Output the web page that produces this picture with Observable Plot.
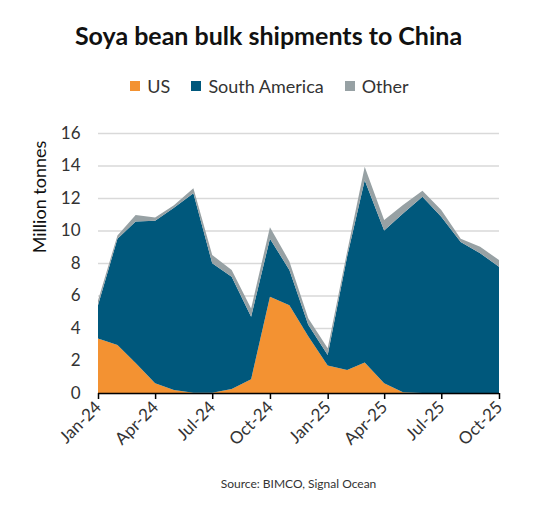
<!DOCTYPE html>
<html><head><meta charset="utf-8">
<script src="https://cdn.jsdelivr.net/npm/d3@7"></script>
<script src="https://cdn.jsdelivr.net/npm/@observablehq/plot@0.6"></script>
<style>
body{margin:0;background:#fff;font-family:Lato,sans-serif;}
#wrap{position:relative;width:537px;height:515px;overflow:hidden;}
.title{position:absolute;top:20px;left:0;width:537px;text-align:center;font-weight:bold;font-size:25px;color:#111;}
.legend{position:absolute;top:75px;left:0;width:537px;display:flex;justify-content:center;gap:21px;font-size:18px;color:#333;padding-left:2px;box-sizing:border-box;}
.legend span.item{display:flex;align-items:center;gap:7px;}
.legend span.sw{display:inline-block;width:10px;height:10px;}
#chart{position:absolute;top:110px;left:0;}
.source{position:absolute;top:476px;left:0;width:537px;text-align:center;font-size:12px;color:#333;padding-left:60px;box-sizing:border-box;}
</style></head>
<body>
<div id="wrap">
<div class="title">Soya bean bulk shipments to China</div>
<div class="legend" id="legend"></div>
<div id="chart"></div>
<div class="source">Source: BIMCO, Signal Ocean</div>
</div>
<script>
const months = ["Jan-24","Feb-24","Mar-24","Apr-24","May-24","Jun-24","Jul-24","Aug-24","Sep-24","Oct-24","Nov-24","Dec-24",
                "Jan-25","Feb-25","Mar-25","Apr-25","May-25","Jun-25","Jul-25","Aug-25","Sep-25","Oct-25"];
const seriesNames = ["US","South America","Other"];
const seriesColors = ["#F39232","#00587C","#97A1A4"];
const us = [3.35,2.95,1.85,0.6,0.18,0.02,0.02,0.25,0.85,5.93,5.4,3.5,1.7,1.41,1.87,0.6,0.05,0,0,0,0,0];
const southAmerica = [2.05,6.55,8.7,10.0,11.22,12.28,7.96,6.91,3.85,3.57,2.17,0.7,0.64,6.99,11.23,9.4,11.0,12.08,10.85,9.3,8.6,7.77];
const other = [0.3,0.2,0.4,0.2,0.15,0.3,0.52,0.41,0.5,0.7,0.53,0.4,0.41,0.3,0.83,0.65,0.52,0.37,0.41,0.2,0.4,0.41];
const yTicks = [0,2,4,6,8,10,12,14,16];

const parse = d3.utcParse("%b-%y");
const values = [us, southAmerica, other];
const data = [];
seriesNames.forEach((s,i)=>months.forEach((m,j)=>data.push({date:parse(m), series:s, value:values[i][j]})));

const leg = document.getElementById("legend");
seriesNames.forEach((s,i)=>{
  const it = document.createElement("span"); it.className="item";
  it.innerHTML = `<span class="sw" style="background:${seriesColors[i]}"></span>${s}`;
  leg.appendChild(it);
});

const xTicks = d3.utcMonth.every(3).range(parse("Jan-24"), d3.utcMonth.offset(parse("Oct-25"),1));

const chart = Plot.plot({
  width: 537, height: 355,
  marginLeft: 98, marginRight: 38, marginTop: 23, marginBottom: 72,
  style: {fontFamily: "Lato, sans-serif", fontSize: "17px", color: "#333", background: "#fff"},
  x: {type: "utc", domain: [parse("Jan-24"), parse("Oct-25")]},
  y: {domain: [0, 16]},
  color: {domain: seriesNames, range: seriesColors},
  marks: [
    Plot.gridY(yTicks, {stroke: "#D9D9D9", strokeOpacity: 1, strokeWidth: 1.5}),
    Plot.areaY(data, {x: "date", y: "value", fill: "series", order: seriesNames}),
    Plot.ruleY([0], {stroke: "#000", strokeWidth: 1.5}),
    Plot.axisY(yTicks, {tickSize: 0, tickPadding: 18, label: null, fontSize: 17}),
    Plot.axisX(xTicks, {tickFormat: d3.utcFormat("%b-%y"), tickRotate: -45, tickSize: 6, strokeWidth: 1.5, stroke: "#000", label: null, fontSize: 17, tickPadding: 5})
  ]
});
document.getElementById("chart").appendChild(chart);
d3.select(chart).append("text")
  .attr("transform", "translate(46,87) rotate(-90)")
  .attr("text-anchor", "middle")
  .attr("font-size", 18).attr("fill", "#111")
  .text("Million tonnes");
</script>
</body></html>
